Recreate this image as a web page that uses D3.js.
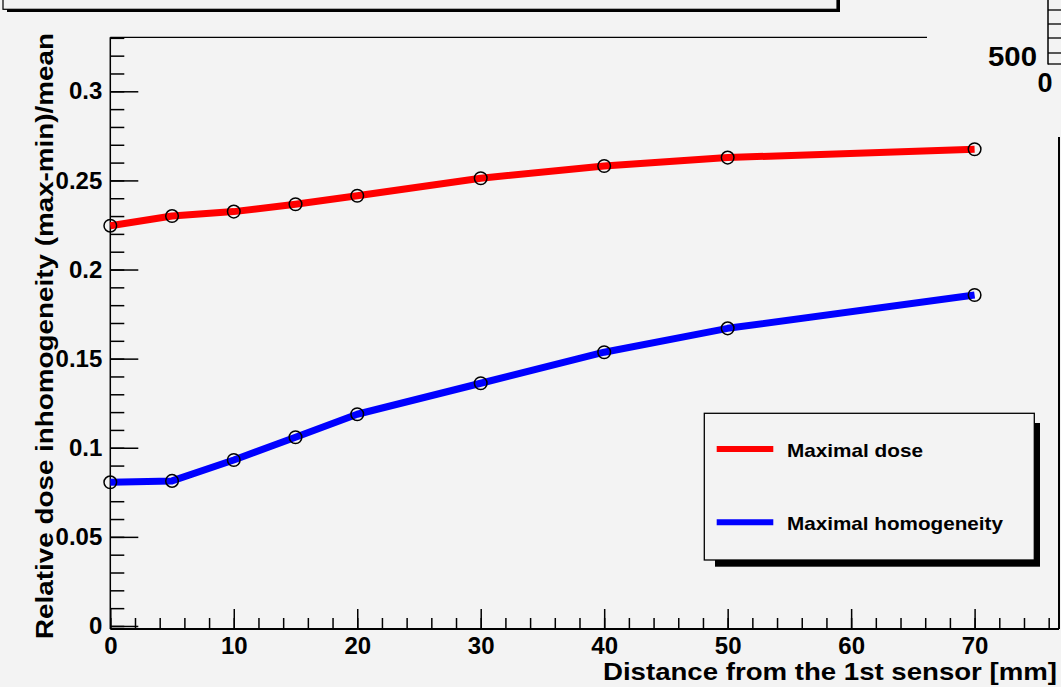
<!DOCTYPE html>
<html>
<head>
<meta charset="utf-8">
<script src="https://cdn.jsdelivr.net/npm/d3@7/dist/d3.min.js"></script>
<style>
  html, body { margin: 0; padding: 0; background: #f3f3f3; }
  svg { display: block; }
  text { font-family: "Liberation Sans", Arial, Helvetica, sans-serif; font-weight: bold; fill: #000; }
</style>
</head>
<body>
<script>
// ---- data ----
const distances = [0, 5, 10, 15, 20, 30, 40, 50, 70];
const maximalDose = [0.2246, 0.2300, 0.2325, 0.2366, 0.2414, 0.2512, 0.2581, 0.2628, 0.2675];
const maximalHomogeneity = [0.0806, 0.0814, 0.0931, 0.1059, 0.1188, 0.1362, 0.1536, 0.1670, 0.1857];
const seriesNames = ["Maximal dose", "Maximal homogeneity"];
const seriesColors = ["#ff0000", "#0000ff"];
const xMajorTicks = [0, 10, 20, 30, 40, 50, 60, 70];
const yMajorTicks = [0, 0.05, 0.1, 0.15, 0.2, 0.25, 0.3];
const yTickLabels = ["0", "0.05", "0.1", "0.15", "0.2", "0.25", "0.3"];
const xTitle = "Distance from the 1st sensor [mm]";
const yTitle = "Relative dose inhomogeneity (max-min)/mean";
const sidePanelLabels = ["500", "0"];

const W = 1061, H = 687;
const svg = d3.select("body").append("svg").attr("width", W).attr("height", H);
svg.append("rect").attr("width", W).attr("height", H).attr("fill", "#f3f3f3");

// scales
const x = d3.scaleLinear().domain([0, 70]).range([110.3, 974.6]);
const y = d3.scaleLinear().domain([-0.0017, 0.3303]).range([629, 37.3]);
const xEnd = 1059;
const xMinor = d3.range(0, 77, 2);
const yMinor = d3.range(0, 34).map(i => +(i * 0.01).toFixed(2));

// top-left title box (cut off)
svg.append("rect").attr("x", 7).attr("y", -10).attr("width", 833).attr("height", 22).attr("fill", "#000");
svg.append("rect").attr("x", 3).attr("y", -20).attr("width", 834).attr("height", 29.3)
  .attr("fill", "#f3f3f3").attr("stroke", "#000").attr("stroke-width", 1.2);

// side panel (top right, cut off)
const sp = svg.append("g");
sp.append("line").attr("x1", 1048).attr("x2", 1048).attr("y1", 0).attr("y2", 64.5).attr("stroke", "#000").attr("stroke-width", 1.5);
[10, 24, 38, 53, 64].forEach(v => {
  sp.append("line").attr("x1", 1048).attr("x2", 1061).attr("y1", v).attr("y2", v).attr("stroke", "#000").attr("stroke-width", 1.3);
});
sp.append("text").attr("x", 1037).attr("y", 66).attr("text-anchor", "end").attr("font-size", 27)
  .attr("textLength", 49).attr("lengthAdjust", "spacingAndGlyphs").text(sidePanelLabels[0]);
sp.append("text").attr("x", 1045).attr("y", 92).attr("text-anchor", "middle").attr("font-size", 27).text(sidePanelLabels[1]);

// frame lines
svg.append("line").attr("x1", x(0)).attr("x2", 927).attr("y1", y.range()[1]).attr("y2", y.range()[1])
  .attr("stroke", "#000").attr("stroke-width", 1.3);
svg.append("line").attr("x1", x(0)).attr("x2", x(0)).attr("y1", y.range()[1]).attr("y2", y.range()[0])
  .attr("stroke", "#000").attr("stroke-width", 1.5);
svg.append("line").attr("x1", x(0)).attr("x2", xEnd).attr("y1", y.range()[0]).attr("y2", y.range()[0])
  .attr("stroke", "#000").attr("stroke-width", 2);
svg.append("line").attr("x1", xEnd).attr("x2", xEnd).attr("y1", 137).attr("y2", y.range()[0])
  .attr("stroke", "#000").attr("stroke-width", 2);

// y ticks (inside, pointing right)
function styleAxis(g) {
  g.select(".domain").remove();
  g.selectAll(".tick line").attr("stroke", "#000").attr("stroke-width", 1.5);
}
svg.append("g").attr("transform", `translate(${x(0)},0)`)
  .call(d3.axisRight(y).tickValues(yMinor).tickSize(14).tickFormat(""))
  .call(styleAxis);
svg.append("g").attr("transform", `translate(${x(0)},0)`)
  .call(d3.axisRight(y).tickValues(yMajorTicks).tickSize(28).tickFormat(""))
  .call(styleAxis);
const yl = svg.append("g").attr("transform", `translate(${x(0)},0)`)
  .call(d3.axisLeft(y).tickValues(yMajorTicks).tickSize(0).tickPadding(8)
    .tickFormat((d, i) => yTickLabels[i]));
yl.select(".domain").remove();
yl.selectAll("text").attr("font-size", 24).attr("font-family", null).attr("font-weight", "bold").attr("fill", "#000");

// x ticks (inside, pointing up)
svg.append("g").attr("transform", `translate(0,${y.range()[0]})`)
  .call(d3.axisTop(x).tickValues(xMinor).tickSize(11).tickFormat(""))
  .call(styleAxis);
svg.append("g").attr("transform", `translate(0,${y.range()[0]})`)
  .call(d3.axisTop(x).tickValues(xMajorTicks).tickSize(20).tickFormat(""))
  .call(styleAxis);
const xl = svg.append("g").attr("transform", `translate(0,${y.range()[0]})`)
  .call(d3.axisBottom(x).tickValues(xMajorTicks).tickSize(0).tickPadding(8).tickFormat(d3.format("d")));
xl.select(".domain").remove();
xl.selectAll("text").attr("font-size", 24).attr("font-family", null).attr("font-weight", "bold").attr("fill", "#000");

// axis titles
svg.append("text").attr("x", 1057).attr("y", 680).attr("text-anchor", "end").attr("font-size", 24)
  .attr("textLength", 454).attr("lengthAdjust", "spacingAndGlyphs").text(xTitle);
svg.append("text").attr("transform", "translate(53,33) rotate(-90)").attr("text-anchor", "end").attr("font-size", 24)
  .attr("textLength", 606).attr("lengthAdjust", "spacingAndGlyphs").text(yTitle);

// series
const series = [maximalDose, maximalHomogeneity];
const line = d3.line().x((d, i) => x(distances[i])).y(d => y(d));
series.forEach((vals, k) => {
  svg.append("path").datum(vals).attr("d", line).attr("fill", "none")
    .attr("stroke", seriesColors[k]).attr("stroke-width", 7).attr("stroke-linejoin", "round");
});
series.forEach(vals => {
  svg.append("g").selectAll("circle").data(vals).join("circle")
    .attr("cx", (d, i) => x(distances[i])).attr("cy", d => y(d)).attr("r", 6.3)
    .attr("fill", "none").attr("stroke", "#000").attr("stroke-width", 1.5);
});

// legend
const lg = svg.append("g");
lg.append("rect").attr("x", 715).attr("y", 423).attr("width", 325).attr("height", 143.7).attr("fill", "#000");
lg.append("rect").attr("x", 704.3).attr("y", 413.3).attr("width", 330).attr("height", 146.7)
  .attr("fill", "#f3f3f3").attr("stroke", "#000").attr("stroke-width", 1.3);
const legendY = [449, 522.3];
const legendLen = [136, 216];
seriesNames.forEach((name, k) => {
  lg.append("line").attr("x1", 716.7).attr("x2", 773.3).attr("y1", legendY[k]).attr("y2", legendY[k])
    .attr("stroke", seriesColors[k]).attr("stroke-width", 6);
  lg.append("text").attr("x", 787).attr("y", legendY[k] + 7.5).attr("font-size", 18.5)
    .attr("textLength", legendLen[k]).attr("lengthAdjust", "spacingAndGlyphs").text(name);
});
</script>
</body>
</html>
